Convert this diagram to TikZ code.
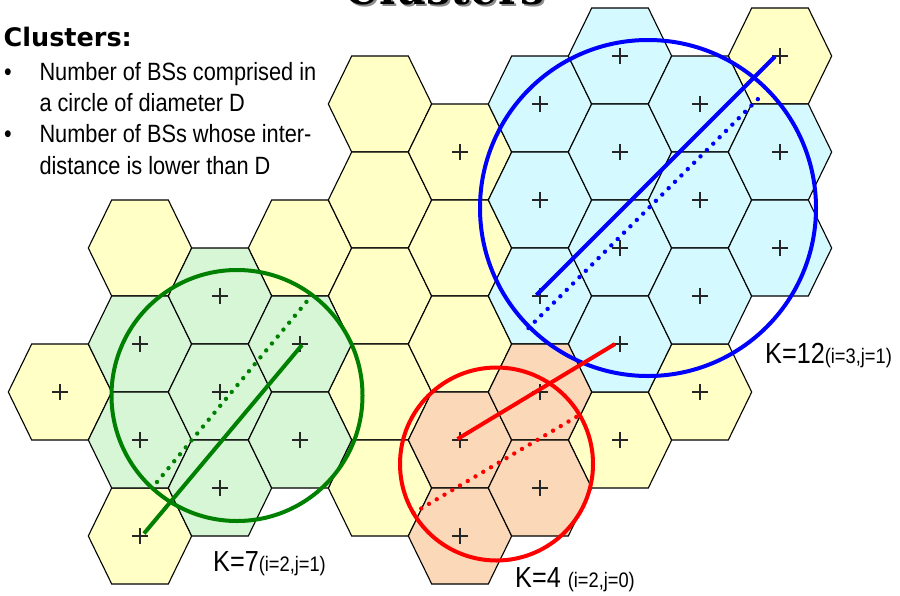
\documentclass[tikz,border=0pt]{standalone}
\usepackage{fontspec}
\setmainfont{Liberation Sans}
\newfontfamily\narrowfont[FakeStretch=0.87]{Liberation Sans}
\newfontfamily\headfont{DejaVu Sans}
\newfontfamily\titlefont{DejaVu Serif}
\definecolor{hy}{RGB}{255,255,198}
\definecolor{hg}{RGB}{214,246,214}
\definecolor{hc}{RGB}{212,250,255}
\definecolor{ho}{RGB}{250,216,184}
\definecolor{cgreen}{RGB}{0,128,0}
\definecolor{cblue}{RGB}{0,0,255}
\definecolor{cred}{RGB}{255,0,0}
\tikzset{
  hexcell/.style={draw=black, line width=1.1pt, line join=miter},
  crossline/.style={draw=black!85, line width=1.2pt},
  ring/.style={line width=4pt},
  diam/.style={line width=4pt},
  dotline/.style={line width=4.4pt, line cap=round, dash pattern=on 0pt off 9pt},
  txt/.style={inner sep=0pt, anchor=base west, font=\narrowfont},
}
\begin{document}
\begin{tikzpicture}[x=1pt,y=-1pt]
\path[use as bounding box] (0,0) rectangle (900,595);
\clip (0,0) rectangle (900,595);
\fill[white] (0,0) rectangle (900,595);
% hexagonal cells: x / y / colour / cross
\foreach \cx/\cy/\cc/\cr in {
  60/392/hy/1, 140/248/hy/0, 140/536/hy/1, 300/248/hy/0,
  380/104/hy/0, 380/200/hy/0, 380/296/hy/0, 380/392/hy/0, 380/488/hy/0,
  460/152/hy/1, 460/248/hy/0, 460/344/hy/0,
  620/440/hy/1, 700/392/hy/1, 780/56/hy/1,
  140/344/hg/1, 140/440/hg/1, 220/296/hg/1, 220/392/hg/1, 220/488/hg/1, 300/344/hg/1, 300/440/hg/1,
  540/104/hc/1, 540/200/hc/1, 540/296/hc/1, 620/56/hc/1, 620/152/hc/1, 620/248/hc/1, 620/344/hc/1,
  700/104/hc/1, 700/200/hc/1, 700/296/hc/1, 780/152/hc/1, 780/248/hc/1,
  460/440/ho/1, 460/536/ho/1, 540/392/ho/1, 540/488/ho/1}{
  \filldraw[hexcell, fill=\cc] (\cx,\cy) ++(-51.7,0) -- ++(23.4,-48) -- ++(56.6,0) -- ++(23.4,48) -- ++(-23.4,48) -- ++(-56.6,0) -- cycle;
  \ifnum\cr=1
    \draw[crossline] (\cx-8,\cy) -- (\cx+8,\cy) (\cx,\cy-8) -- (\cx,\cy+8);
  \fi
}
% title (cropped at the top)
\node[inner sep=0pt, anchor=base, text=black!45, font=\titlefont\bfseries\fontsize{43}{43}\selectfont] (titleshadow) at (447,6) {Clusters};
\node[inner sep=0pt, anchor=base, text=black, font=\titlefont\bfseries\fontsize{43}{43}\selectfont] (title) at (445,4) {Clusters};
% text block
\node[inner sep=0pt, anchor=base west, font=\headfont\bfseries\fontsize{25.5}{25.5}\selectfont] (head) at (3.5,46.7) {Clusters:};
\node[inner sep=0pt, anchor=base, font=\narrowfont\fontsize{25}{25}\selectfont] (b1) at (8,80) {•};
\node[txt, font=\narrowfont\fontsize{25}{25}\selectfont] (l1) at (39.3,80) {Number of BSs comprised in};
\node[txt, font=\narrowfont\fontsize{25}{25}\selectfont] (l2) at (39.3,111.3) {a circle of diameter D};
\node[inner sep=0pt, anchor=base, font=\narrowfont\fontsize{25}{25}\selectfont] (b2) at (8,142.7) {•};
\node[txt, font=\narrowfont\fontsize{25}{25}\selectfont] (l3) at (39.3,142.7) {Number of BSs whose inter-};
\node[txt, font=\narrowfont\fontsize{25}{25}\selectfont] (l4) at (39.3,174) {distance is lower than D};
% circles
\draw[ring, cgreen] (237,395.5) circle[radius=125.5];
\draw[ring, cblue] (648,208) circle[radius=168];
\draw[ring, cred] (496.5,464) circle[radius=96.5];
% diameters
\coordinate (gs1) at (144,533.5);
\coordinate (gs2) at (302,345);
\coordinate (gd1) at (157,482);
\coordinate (gd2) at (308,300);
\coordinate (bs1) at (536.5,295);
\coordinate (bs2) at (775,56.5);
\coordinate (bd1) at (528.5,328);
\coordinate (bd2) at (764,93);
\coordinate (rs1) at (457.5,439);
\coordinate (rs2) at (615,344);
\coordinate (rd1) at (413.5,513);
\coordinate (rd2) at (577,416.5);
\draw[diam, cgreen] (gs1) -- (gs2);
\draw[dotline, cgreen] (gd1) -- (gd2);
\draw[diam, cblue] (bs1) -- (bs2);
\draw[dotline, cblue] (bd1) -- (bd2);
\draw[diam, cred] (rs1) -- (rs2);
\draw[dotline, cred] (rd1) -- (rd2);
% labels
\node[txt] (k7) at (213,571) {\fontsize{29}{29}\selectfont K=7\fontsize{21}{21}\selectfont(i=2,j=1)};
\node[txt] (k4) at (515,587.7) {\fontsize{29}{29}\selectfont K=4 \fontsize{21}{21}\selectfont(i=2,j=0)};
\node[txt] (k12) at (765,363.3) {\fontsize{29}{29}\selectfont K=12\fontsize{21}{21}\selectfont(i=3,j=1)};
\end{tikzpicture}
\end{document}
